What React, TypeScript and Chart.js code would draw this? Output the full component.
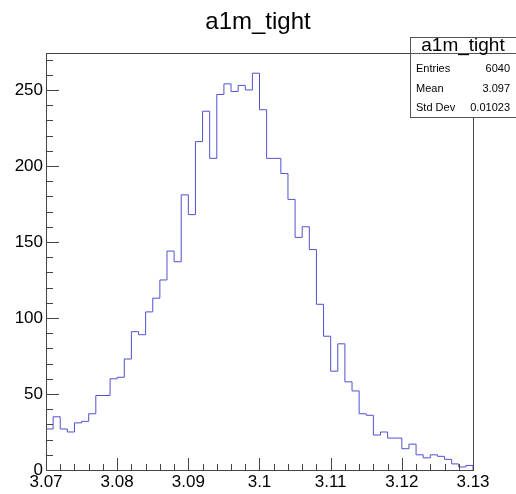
import React, { useEffect, useRef } from "react";
import { Chart, registerables } from "chart.js";

Chart.register(...registerables);

// ---- data ----
const histTitle = "a1m_tight";
const binLow = 3.07;
const binHigh = 3.13;
const binWidth = 0.001;
const counts: number[] = [
  27, 35, 27, 25, 31, 32, 37, 49, 49, 60,
  61, 73, 91, 89, 104, 113, 125, 144, 137, 181,
  168, 216, 236, 205, 247, 254, 249, 253, 250, 261,
  237, 205, 205, 195, 178, 153, 160, 145, 109, 88,
  65, 83, 58, 52, 37, 36, 23, 25, 21, 21,
  14, 17, 10, 8, 10, 9, 7, 4, 2, 3,
];
const yMax = 274.3;
const xMajorStep = 0.01;
const xMinorStep = 0.002;
const yMajorStep = 50;
const yMinorStep = 10;
const statLabels = ["Entries", "Mean", "Std Dev"];
const statValues = ["6040", "3.097", "0.01023"];

const FONT = "'Liberation Sans', Arial, Helvetica, sans-serif";

const rootPlugin = {
  id: "rootDecor",
  afterDraw(chart: any) {
    const ctx = chart.ctx as CanvasRenderingContext2D;
    const { left, right, top, bottom } = chart.chartArea;
    const xs = chart.scales.x;
    const ys = chart.scales.y;
    ctx.save();
    // frame
    ctx.strokeStyle = "#444";
    ctx.lineWidth = 1;
    ctx.strokeRect(Math.round(left) + 0.5, Math.round(top) + 0.5, Math.round(right - left), Math.round(bottom - top));
    // x ticks (inward)
    const nX = Math.round((xs.max - xs.min) / xMinorStep);
    for (let i = 0; i <= nX; i++) {
      const v = xs.min + i * xMinorStep;
      const isMajor = Math.abs(v / xMajorStep - Math.round(v / xMajorStep)) < 1e-6;
      const px = Math.round(xs.getPixelForValue(v)) + 0.5;
      const len = isMajor ? 12 : 6;
      ctx.beginPath();
      ctx.moveTo(px, bottom);
      ctx.lineTo(px, bottom - len);
      ctx.stroke();
    }
    // y ticks (inward)
    for (let v = 0; v <= ys.max + 1e-9; v += yMinorStep) {
      const isMajor = v % yMajorStep === 0;
      const py = Math.round(ys.getPixelForValue(v)) + 0.5;
      const len = isMajor ? 13 : 7;
      ctx.beginPath();
      ctx.moveTo(left, py);
      ctx.lineTo(left + len, py);
      ctx.stroke();
    }
    // title
    ctx.fillStyle = "#000";
    ctx.font = `24px ${FONT}`;
    ctx.textAlign = "center";
    ctx.textBaseline = "alphabetic";
    ctx.fillText(histTitle, 258, 29);
    // stats box
    const bx = 410.5, by = 37.5, bw = 106, bh = 80;
    ctx.fillStyle = "#fff";
    ctx.fillRect(bx, by, bw, bh);
    ctx.strokeStyle = "#555";
    ctx.strokeRect(bx, by, bw, bh);
    ctx.beginPath();
    ctx.moveTo(bx, 53.5);
    ctx.lineTo(bx + bw, 53.5);
    ctx.stroke();
    ctx.fillStyle = "#000";
    ctx.font = `19px ${FONT}`;
    ctx.textAlign = "center";
    ctx.textBaseline = "alphabetic";
    ctx.fillText(histTitle, 463, 51);
    ctx.font = `11px ${FONT}`;
    ctx.textBaseline = "middle";
    const rowsY = [69, 89, 108];
    statLabels.forEach((l, i) => {
      ctx.textAlign = "left";
      ctx.fillText(l, 416, rowsY[i]);
      ctx.textAlign = "right";
      ctx.fillText(statValues[i], 510, rowsY[i]);
    });
    ctx.restore();
  },
};

export default function App() {
  const ref = useRef<HTMLCanvasElement>(null);
  useEffect(() => {
    if (!ref.current) return;
    const pts: { x: number; y: number }[] = [{ x: binLow, y: 0 }];
    counts.forEach((c, i) => pts.push({ x: binLow + i * binWidth, y: c }));
    pts.push({ x: binHigh, y: counts[counts.length - 1] });
    pts.push({ x: binHigh, y: 0 });
    const chart = new Chart(ref.current, {
      type: "line",
      data: {
        datasets: [
          {
            data: pts,
            stepped: "before",
            borderColor: "rgb(80,80,210)",
            borderWidth: 1,
            pointRadius: 0,
            fill: false,
            tension: 0,
          },
        ],
      },
      options: {
        animation: false,
        responsive: false,
        devicePixelRatio: 1,
        layout: { padding: { top: 53, right: 43, left: 0, bottom: 0 } },
        plugins: { legend: { display: false }, tooltip: { enabled: false }, title: { display: false } },
        scales: {
          x: {
            type: "linear",
            min: binLow,
            max: binHigh,
            grid: { display: false, drawTicks: false },
            border: { display: false },
            afterBuildTicks: (s: any) => {
              const t = [];
              for (let i = 0; i <= Math.round((binHigh - binLow) / xMajorStep); i++) t.push({ value: binLow + i * xMajorStep });
              s.ticks = t;
            },
            afterFit: (s: any) => { s.height = 24; },
            ticks: {
              autoSkip: false,
              maxRotation: 0,
              padding: 2,
              color: "#000",
              font: { size: 17, family: FONT },
              callback: (v: any) => String(parseFloat(Number(v).toFixed(2))),
            },
          },
          y: {
            type: "linear",
            min: 0,
            max: yMax,
            grid: { display: false, drawTicks: false },
            border: { display: false },
            afterBuildTicks: (s: any) => {
              s.ticks = s.ticks.filter((t: any) => t.value % yMajorStep === 0);
            },
            afterFit: (s: any) => { s.width = 46; },
            ticks: {
              stepSize: yMajorStep,
              padding: 3,
              color: "#000",
              font: { size: 17, family: FONT },
            },
          },
        },
      },
      plugins: [rootPlugin],
    });
    return () => chart.destroy();
  }, []);
  return (
    <div style={{ position: "fixed", left: 0, top: 0, width: 516, height: 494, background: "#fff" }}>
      <canvas ref={ref} width={516} height={494} style={{ width: 516, height: 494, display: "block" }} />
    </div>
  );
}
